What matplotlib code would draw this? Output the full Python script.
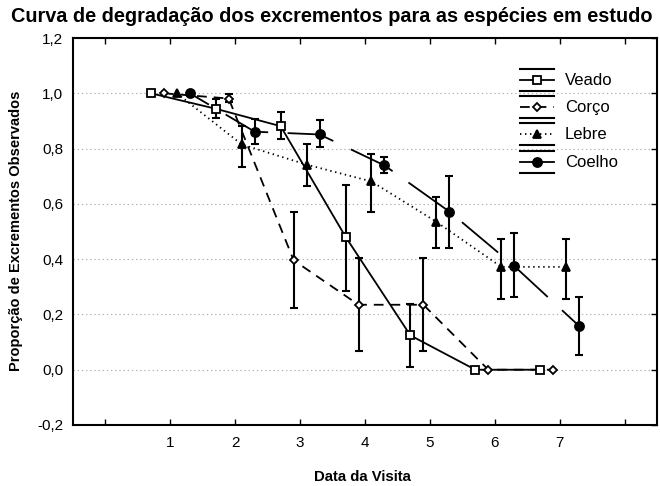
import numpy as np
import matplotlib
matplotlib.use("Agg")
import matplotlib.pyplot as plt

plt.rcParams['font.family'] = ['Liberation Sans', 'DejaVu Sans']
plt.rcParams['lines.scale_dashes'] = False

# Dados
visitas = np.array([1, 2, 3, 4, 5, 6, 7])

veado = [1.00, 0.944, 0.881, 0.481, 0.124, 0.0, 0.0]
veado_inf = [1.00, 0.91, 0.833, 0.285, 0.011, 0.0, 0.0]
veado_sup = [1.00, 0.98, 0.932, 0.669, 0.236, 0.0, 0.0]

corco = [1.00, 0.981, 0.396, 0.235, 0.235, 0.0, 0.0]
corco_inf = [1.00, 0.967, 0.223, 0.067, 0.067, 0.0, 0.0]
corco_sup = [1.00, 0.996, 0.572, 0.405, 0.405, 0.0, 0.0]

lebre = [1.00, 0.815, 0.742, 0.681, 0.535, 0.372, 0.372]
lebre_inf = [1.00, 0.733, 0.664, 0.572, 0.44, 0.257, 0.257]
lebre_sup = [1.00, 0.881, 0.817, 0.782, 0.623, 0.473, 0.473]

coelho = [1.00, 0.861, 0.851, 0.739, 0.572, 0.375, 0.158]
coelho_inf = [1.00, 0.818, 0.805, 0.711, 0.439, 0.263, 0.055]
coelho_sup = [1.00, 0.908, 0.902, 0.768, 0.699, 0.496, 0.263]

nomes = ["Veado", "Corço", "Lebre", "Coelho"]
y_ticks = [-0.2, 0.0, 0.2, 0.4, 0.6, 0.8, 1.0, 1.2]
y_labels = ["-0,2", "0,0", "0,2", "0,4", "0,6", "0,8", "1,0", "1,2"]
x_ticks = [0, 1, 2, 3, 4, 5, 6, 7, 8]
x_labels = ["", "1", "2", "3", "4", "5", "6", "7", ""]

# estilo de cada série: deslocamento, marcador, cor da face, tracejado
estilos = {
    "Veado": dict(dx=-0.3, marker="s", mfc="white", ms=6.0, ls="-"),
    "Corço": dict(dx=-0.1, marker="D", mfc="white", ms=4.0, ls=(0, (7, 5))),
    "Lebre": dict(dx=0.1, marker="^", mfc="black", ms=6.0, ls=(0, (1, 2.6))),
    "Coelho": dict(dx=0.3, marker="o", mfc="black", ms=6.5, ls=(18, (34, 14))),
}
series = {
    "Veado": (veado, veado_inf, veado_sup),
    "Corço": (corco, corco_inf, corco_sup),
    "Lebre": (lebre, lebre_inf, lebre_sup),
    "Coelho": (coelho, coelho_inf, coelho_sup),
}

fig = plt.figure(figsize=(6.6, 4.86), dpi=100)
ax = fig.add_axes([73/660, 1-425/486, 584/660, 387/486])

for nome in nomes:
    y, lo, hi = (np.array(v) for v in series[nome])
    st = estilos[nome]
    x = visitas + st["dx"]
    m = hi > lo
    ax.errorbar(x[m], y[m], yerr=[y[m]-lo[m], hi[m]-y[m]], fmt='none',
                ecolor='black', elinewidth=1.5, capsize=3, capthick=1.5, zorder=3)
    ax.plot(x, y, color='black', lw=1.3, ls=st["ls"], zorder=2)
    ax.plot(x, y, ls='none', marker=st["marker"], ms=st["ms"], mfc=st["mfc"],
            mec='black', mew=1.3, zorder=4)

ax.set_xlim(-0.5, 8.5)
ax.set_ylim(-0.2, 1.2)
ax.set_xticks(x_ticks)
ax.set_xticklabels(x_labels, fontsize=11)
ax.set_yticks(y_ticks)
ax.set_yticklabels(y_labels, fontsize=11)
ax.tick_params(axis='x', direction='in', top=True, length=4, width=1, pad=8)
ax.tick_params(axis='y', direction='in', left=False, right=True, length=4,
               width=1, pad=7)
ax.yaxis.grid(True, linestyle=(0, (1, 2)), color='#b0b0b0', lw=0.8)
ax.set_axisbelow(True)
for s in ax.spines.values():
    s.set_linewidth(1.5)

# legenda desenhada à mão (estilo com barras de erro)
def ax_px(xp, yp):
    return (xp - 73) / 584, (425 - yp) / 387

leg_y = [80, 107, 134, 162]
for nome, yc in zip(nomes, leg_y):
    st = estilos[nome]
    for dy in (-11, 11):
        (x0, y0), (x1, _) = ax_px(520, yc + dy), ax_px(554, yc + dy)
        ax.plot([x0, x1], [y0, y0], transform=ax.transAxes, color='black',
                lw=1.5, clip_on=False, zorder=5)
    (x0, y0), (x1, _) = ax_px(520, yc), ax_px(554, yc)
    xm, _ = ax_px(537, yc)
    ax.plot([x0, x1], [y0, y0], transform=ax.transAxes, color='black',
            lw=1.3, ls=st["ls"] if nome != "Coelho" else "-", clip_on=False, zorder=5)
    ax.plot([xm], [y0], transform=ax.transAxes, ls='none', marker=st["marker"],
            ms=st["ms"], mfc=st["mfc"], mec='black', mew=1.3, clip_on=False, zorder=6)
    xt, _ = ax_px(565, yc)
    ax.text(xt, y0, nome, transform=ax.transAxes, fontsize=12, va='center', ha='left')

fig.text(332/660, 1 - 17/486, "Curva de degradação dos excrementos para as espécies em estudo",
         ha='center', va='center', fontsize=14.3, fontweight='bold')
fig.text(362/660, 1 - 477/486, "Data da Visita", ha='center', va='center',
         fontsize=10.7, fontweight='bold')
fig.text(16/660, 1 - 231/486, "Proporção de Excrementos Observados", ha='center',
         va='center', rotation=90, fontsize=10.5, fontweight='bold')

fig.savefig("out.png", dpi=100)
